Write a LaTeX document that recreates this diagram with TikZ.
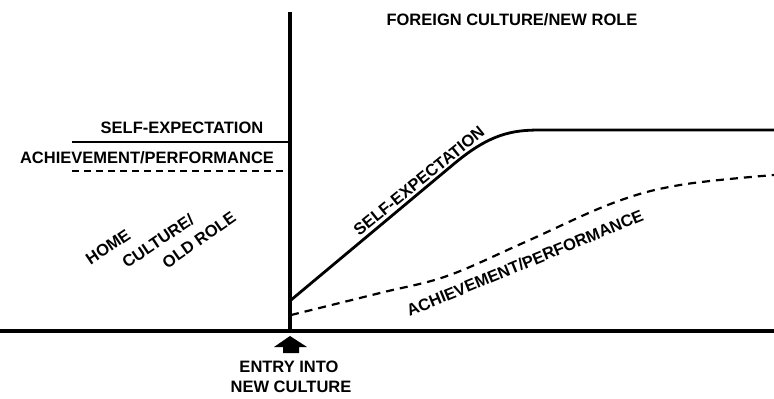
\documentclass[tikz,border=0pt]{standalone}
\usepackage{fontspec}
\setmainfont{Liberation Sans}
\begin{document}
\begin{tikzpicture}[x=1pt,y=-1pt,
  lbl/.style={inner sep=0pt,font=\fontsize{16.5}{18}\selectfont\bfseries},
  axis/.style={line width=4pt},
  curve/.style={line width=2.8pt},
  dashcurve/.style={line width=2.2pt,dash pattern=on 8pt off 6pt},
  guide/.style={line width=2.4pt},
  guidedash/.style={line width=1.8pt,dash pattern=on 7pt off 5pt}]
\useasboundingbox (0,0) rectangle (774,399);

% axes
\coordinate (top) at (290,12);
\coordinate (origin) at (290,331);
\coordinate (xleft) at (0,331);
\coordinate (xright) at (774,331);
\draw[axis] (top) -- (origin);
\draw[axis] (xleft) -- (xright);

% home-culture reference levels
\coordinate (seL) at (72,142);
\coordinate (seR) at (290,142);
\coordinate (apL) at (72,171);
\coordinate (apR) at (290,171);
\draw[guide] (seL) -- (seR);
\draw[guidedash] (apL) -- (apR);
\node[lbl] (seHome) at (182,128) {SELF-EXPECTATION};
\node[lbl] (apHome) at (147,158) {ACHIEVEMENT/PERFORMANCE};

% self-expectation after entry
\coordinate (se0) at (291,300);
\coordinate (se1) at (455,163);
\coordinate (se2) at (540,130);
\coordinate (se3) at (774,130);
\draw[curve] (se0) -- (se1) .. controls (490,134) and (512,130) .. (se2) -- (se3);
\node[lbl,rotate=39] (seNew) at (419,181) {SELF-EXPECTATION};

% achievement/performance after entry
\coordinate (ap0) at (291,315);
\coordinate (ap6) at (774,175);
\draw[dashcurve] plot[smooth,tension=0.6] coordinates
  {(ap0) (380,293) (447,276) (523,243) (613,203) (680,185) (ap6)};
\node[lbl,rotate=22.3] (apNew) at (525,263) {ACHIEVEMENT/PERFORMANCE};

% region labels
\node[lbl] (foreign) at (512,20) {FOREIGN CULTURE/NEW ROLE};
\node[lbl,rotate=34] (home) at (108,247) {HOME};
\node[lbl,rotate=34] (culture) at (158,241) {CULTURE/};
\node[lbl,rotate=35] (oldrole) at (199,240) {OLD ROLE};

% entry marker
\node[lbl] (entry1) at (289,367) {ENTRY INTO};
\node[lbl] (entry2) at (291,387) {NEW CULTURE};
\fill (290,336) -- (307,347) -- (299,347) -- (299,353) -- (283,353) -- (283,347) -- (274,347) -- cycle;
\end{tikzpicture}
\end{document}
